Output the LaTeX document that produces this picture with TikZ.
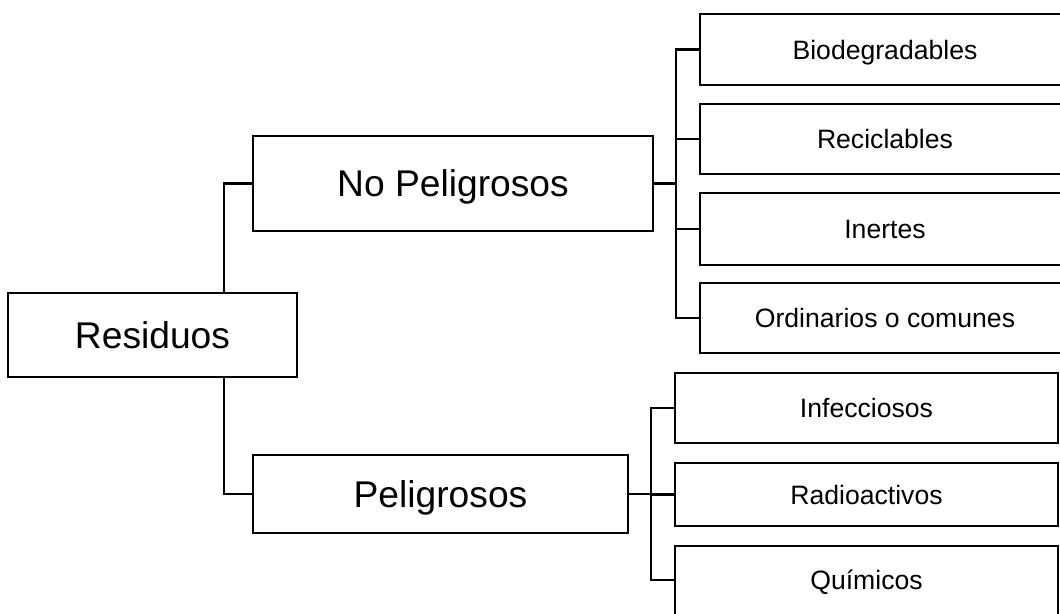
\documentclass[tikz,border=0pt]{standalone}
\usepackage{fontspec}
\setmainfont{Liberation Sans}
\begin{document}
\begin{tikzpicture}[x=1pt,y=-1pt,
  box/.style={draw=black, line width=2.3pt, fill=white, inner sep=0pt, rectangle, text depth=0pt},
  big/.style={box, font=\fontsize{37.2}{40}\selectfont, text height=26.8pt},
  leaf/.style={box, font=\fontsize{26.6}{30}\selectfont, text height=19.2pt},
  link/.style={draw=black, line width=2.1pt}]
\useasboundingbox (0,0) rectangle (1060,613);
\clip (0,0) rectangle (1060,613);
\fill[white] (0,0) rectangle (1060,613);
% main boxes
\node[big, minimum width=289pt, minimum height=84pt] (res) at (152.5,335) {Residuos};
\node[big, minimum width=400pt, minimum height=95pt] (np) at (453,183.5) {No Peligrosos};
\node[big, minimum width=375pt, minimum height=78pt] (pe) at (440.5,494) {Peligrosos};
% top leaves
\node[leaf, minimum width=370pt, minimum height=71pt] (bio) at (885,49.5) {Biodegradables};
\node[leaf, minimum width=370pt, minimum height=70pt] (rec) at (885,139) {Reciclables};
\node[leaf, minimum width=370pt, minimum height=72pt] (ine) at (885,229) {Inertes};
\node[leaf, minimum width=370pt, minimum height=70pt] (ord) at (885,318) {Ordinarios o comunes};
% bottom leaves
\node[leaf, minimum width=383pt, minimum height=70pt] (inf) at (866.5,408) {Infecciosos};
\node[leaf, minimum width=383pt, minimum height=63pt] (rad) at (866.5,494.5) {Radioactivos};
\node[leaf, minimum width=383pt, minimum height=76pt, text depth=8pt] (qui) at (866.5,584) {Químicos};
% connectors
\draw[link] ([xshift=71.5pt]res.north) |- (np.west);
\draw[link] ([xshift=71.5pt]res.south) |- (pe.west);
\foreach \n in {bio,rec,ine,ord}
  \draw[link] (np.east) -| ([xshift=-23pt]\n.west) -- (\n.west);
\foreach \n in {inf,rad}
  \draw[link] (pe.east) -| ([xshift=-23pt]\n.west) -- (\n.west);
\draw[link] (pe.east) -| ([xshift=-23pt,yshift=4pt]qui.west) -- ([yshift=4pt]qui.west);
\end{tikzpicture}
\end{document}
